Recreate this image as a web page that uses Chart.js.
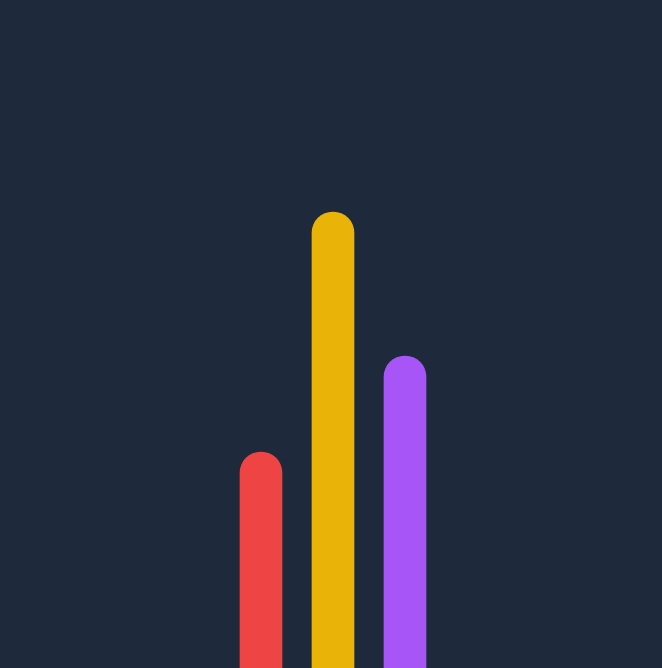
<!DOCTYPE html>
<html>
<head>
<meta charset="utf-8">
<script src="https://cdn.jsdelivr.net/npm/chart.js@4"></script>
<style>
html,body{margin:0;padding:0;background:#1e293b;width:662px;height:668px;overflow:hidden;}
#wrap{position:absolute;left:0;top:0;width:662px;height:668px;}
</style>
</head>
<body>
<div id="wrap"><canvas id="c"></canvas></div>
<script>
const categories = ["A", "B", "C"];
const values = [45, 95, 65];
const barColors = ["#ef4444", "#eab308", "#a855f7"];

new Chart(document.getElementById('c'), {
  type: 'bar',
  data: {
    labels: categories,
    datasets: [{
      data: values,
      backgroundColor: barColors,
      borderWidth: 0,
      borderSkipped: 'bottom',
      borderRadius: {topLeft: 21, topRight: 21, bottomLeft: 0, bottomRight: 0},
      barThickness: 42
    }]
  },
  options: {
    responsive: true,
    maintainAspectRatio: false,
    animation: false,
    layout: {padding: {left: 225, right: 221, top: 0, bottom: 0}},
    plugins: {legend: {display: false}, tooltip: {enabled: false}},
    scales: {
      x: {display: false, offset: true},
      y: {display: false, min: 0, max: 139.17}
    }
  }
});
</script>
</body>
</html>
